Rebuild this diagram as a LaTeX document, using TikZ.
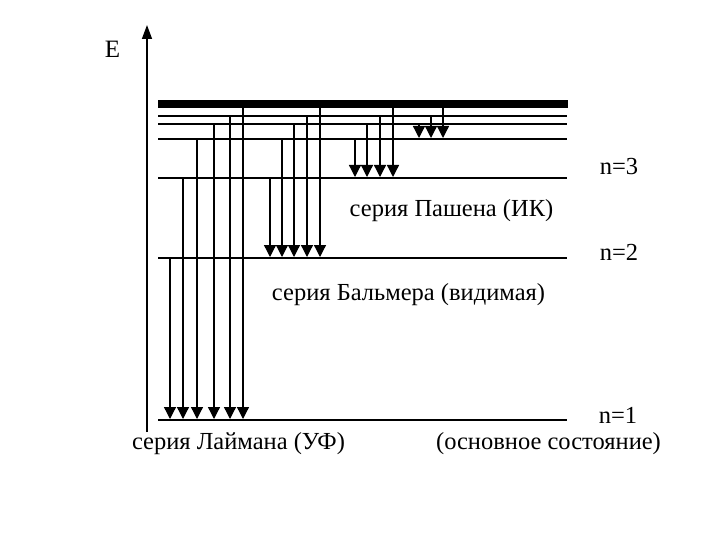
\documentclass[tikz,border=0pt]{standalone}
\usepackage{fontspec}
\setmainfont{Liberation Serif}
\usetikzlibrary{arrows.meta}
\begin{document}
\begin{tikzpicture}[x=1pt,y=-1pt,
  level/.style={line width=2pt},
  cont/.style={line width=8pt},
  trans/.style={line width=1.3pt,-{Triangle[width=12pt,length=12pt]}},
  lbl/.style={font=\fontsize{24.5}{28}\selectfont, inner sep=0pt, anchor=base}]
\useasboundingbox (0,0) rectangle (720,540);
% energy axis
\coordinate (axb) at (147,432);
\coordinate (axt) at (147,25);
\draw[line width=1.5pt,-{Triangle[width=10pt,length=14pt]}] (axb) -- (axt);
\node[lbl,font=\fontsize{25}{28}\selectfont] (E) at (112.5,58) {E};
% levels
\foreach \y/\n in {420/l1,258/l2,178/l3,139/l4,124/l5,116/l6}{
  \draw[level] (158,\y) coordinate (\n a) -- (567,\y) coordinate (\n b);
}
\draw[cont] (158,104) -- (568,104);
% Lyman series
\foreach \x/\s in {170/258,183/178,197/139,214/124,230/116,243/104}
  \draw[trans] (\x,\s) -- (\x,419);
% Balmer series
\foreach \x/\s in {270/178,282/139,294/124,307/116,320/104}
  \draw[trans] (\x,\s) -- (\x,257);
% Paschen series
\foreach \x/\s in {355/139,367/124,380/116,393/104}
  \draw[trans] (\x,\s) -- (\x,177);
% Brackett series
\foreach \x/\s in {419/124,431/116,443/104}
  \draw[trans] (\x,\s) -- (\x,138);
% labels
\node[lbl] (n3) at (619,175) {n=3};
\node[lbl] (n2) at (619,260) {n=2};
\node[lbl] (n1) at (618,423) {n=1};
\node[lbl] (pas) at (451.5,216) {серия Пашена (ИК)};
\node[lbl] (bal) at (408.5,300) {серия Бальмера (видимая)};
\node[lbl] (lym) at (238.5,449) {серия Лаймана (УФ)};
\node[lbl] (gs) at (548.5,449) {(основное состояние)};
\end{tikzpicture}
\end{document}
